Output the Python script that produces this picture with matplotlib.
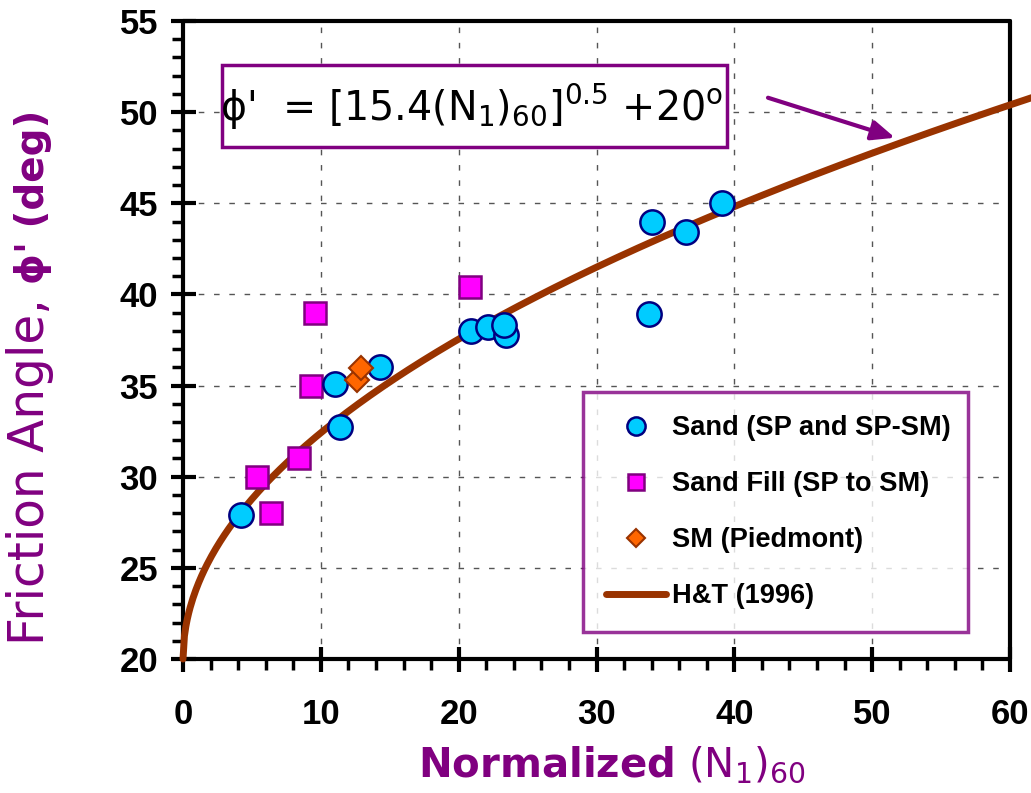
import numpy as np
import matplotlib
matplotlib.use("Agg")
import matplotlib.pyplot as plt
from matplotlib.patches import Rectangle

# ---- data ----
sand_x = [4.2, 11.0, 11.4, 14.3, 20.9, 22.1, 23.4, 23.3, 33.8, 34.0, 36.5, 39.1]
sand_y = [27.9, 35.1, 32.7, 36.0, 38.0, 38.2, 37.8, 38.3, 38.9, 44.0, 43.4, 45.0]
fill_x = [5.4, 6.4, 8.4, 9.3, 9.6, 20.8]
fill_y = [30.0, 28.0, 31.0, 35.0, 39.0, 40.4]
sm_x = [12.6, 12.9]
sm_y = [35.3, 35.95]
curve_coef = 15.4
curve_offset = 20.0
curve_xmax = 62.0

labels = ["Sand (SP and SP-SM)", "Sand Fill (SP to SM)", "SM (Piedmont)", "H&T (1996)"]
xticks = [0, 10, 20, 30, 40, 50, 60]
yticks = [20, 25, 30, 35, 40, 45, 50, 55]

PURPLE = "#800080"
W, H = 1031, 793

fig = plt.figure(figsize=(W/100, H/100), dpi=100)
ax = fig.add_axes([183/W, 1-659/H, (1010-183)/W, (659-21)/H])

N = np.linspace(0, curve_xmax, 600)
phi = np.sqrt(curve_coef * N) + curve_offset

ax.plot(sand_x, sand_y, 'o', ms=17.5, mfc="#00CCFF", mec="#000080", mew=1.8,
        label=labels[0], zorder=5)
ax.plot(fill_x, fill_y, 's', ms=15.5, mfc="#FF00FF", mec=PURPLE, mew=1.8,
        label=labels[1], zorder=4)
ax.plot(sm_x, sm_y, 'D', ms=12.5, mfc="#FF6600", mec="#993300", mew=1.5,
        label=labels[2], zorder=6)
ax.plot(N, phi, '-', color="#993300", lw=5, solid_capstyle='round',
        label=labels[3], clip_on=False, zorder=3)

ax.set_xlim(0, 60)
ax.set_ylim(20, 55)
ax.set_xticks(xticks)
ax.set_yticks(yticks)
ax.set_xticks(np.arange(0, 61, 2), minor=True)
ax.set_yticks(np.arange(20, 56, 1), minor=True)
ax.grid(True, which='major', color="#555555", lw=1.0, linestyle=(0, (4, 7)))
for s in ax.spines.values():
    s.set_linewidth(3)
    s.set_capstyle('round')
ax.tick_params(which='major', direction='inout', length=18, width=3,
               labelsize=25)
ax.tick_params(axis='x', which='major', pad=19)
ax.tick_params(axis='y', which='major', pad=9)
ax.tick_params(which='minor', direction='out', length=8, width=2.5)
for lab in ax.get_xticklabels() + ax.get_yticklabels():
    lab.set_fontfamily("Liberation Sans")
    lab.set_fontweight("bold")

# equation box
ax.add_patch(Rectangle((0.047, 0.802), 0.611, 0.129, transform=ax.transAxes,
                       fill=True, facecolor="white", edgecolor=PURPLE, lw=2.5, zorder=7))
ax.text((472-183)/827, (659-107)/638,
        "\u03d5'  = [15.4(N$_1$)$_{60}$]$^{0.5}$ +20$^\\mathrm{o}$",
        transform=ax.transAxes, ha='center', va='center', fontsize=28.5,
        family="DejaVu Sans", zorder=8)

# arrow
ax.annotate("", xy=((895-183)/827*60, 20+(659-138)/18.22),
            xytext=((768-183)/827*60, 20+(659-98)/18.22),
            arrowprops=dict(arrowstyle='-|>,head_length=1.4,head_width=0.6',
                            color=PURPLE, lw=3, shrinkA=0, shrinkB=0), zorder=6)

leg = ax.legend(loc='upper left', bbox_to_anchor=(0.484, 0.0, 0.465, 0.418),
                mode='expand', borderaxespad=0, frameon=True, fancybox=False,
                markerscale=0.75, handlelength=2.2, handletextpad=0.2,
                labelspacing=1.1, borderpad=0.85,
                prop=dict(family="Liberation Sans", weight='bold', size=19.6))
leg.get_frame().set_edgecolor(PURPLE)
leg.get_frame().set_linewidth(2.5)
leg.set_zorder(9)

# y label in two parts (regular + bold), laid out end to end
xb = 44/W
t1 = fig.text(xb, 0.2, "Friction Angle,", rotation=90, rotation_mode='anchor',
              ha='left', va='baseline', color=PURPLE, fontsize=35, family="DejaVu Sans")
t2 = fig.text(xb, 0.6, "\u03d5' (deg)", rotation=90, rotation_mode='anchor',
              ha='left', va='baseline', color=PURPLE, fontsize=28, family="DejaVu Sans",
              fontweight='bold')
fig.canvas.draw()
r = fig.canvas.get_renderer()
L1 = t1.get_window_extent(r).height
L2 = t2.get_window_extent(r).height
gap = 14
total = L1 + gap + L2
center_from_bottom = H - 377
y0 = center_from_bottom - total / 2
t1.set_y(y0 / H)
t2.set_y((y0 + L1 + gap) / H)

fig.text(418/W, 1-765/H, "$\\mathbf{Normalized}$ (N$_1$)$_{60}$",
         ha='left', va='center', color=PURPLE, fontsize=29, family="DejaVu Sans")

fig.savefig("out.png", dpi=100)
